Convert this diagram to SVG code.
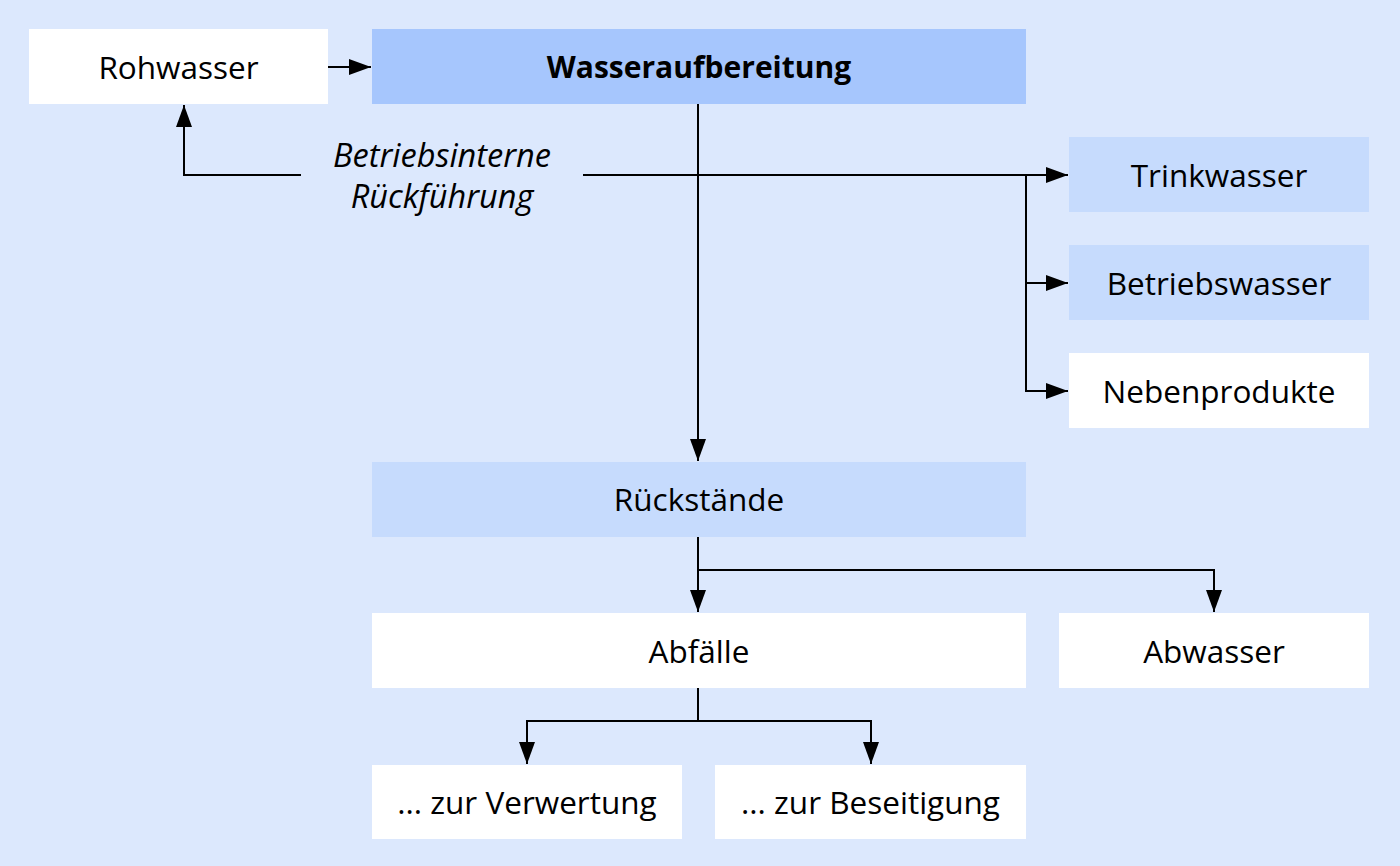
<svg xmlns="http://www.w3.org/2000/svg" width="1400" height="866" viewBox="0 0 1400 866">
<style>
text{font-family:"Open Sans","Noto Sans",sans-serif;font-size:31.5px;fill:#000;text-anchor:middle;dominant-baseline:central}
.i{font-style:italic;font-size:32.5px}
.bd{font-weight:bold;font-size:30px}
.w{fill:#fff}.d{fill:#a6c6fd}.l{fill:#c6dbfd}
.c{fill:none;stroke:#000;stroke-width:2}
</style>
<defs>
<marker id="b" viewBox="0 0 22 16" refX="22" refY="8" markerWidth="22" markerHeight="16" orient="auto" markerUnits="userSpaceOnUse">
<path d="M0,0L22,8L0,16z" fill="#000"/>
</marker>
</defs>
<rect width="1400" height="866" fill="#dce8fd"/>
<g id="connectors" class="c">
<path d="M328,67H371" marker-end="url(#b)"/>
<path d="M698,104V461" marker-end="url(#b)"/>
<path d="M583,175H1068" marker-end="url(#b)"/>
<path d="M1026,175V391H1068" marker-end="url(#b)"/>
<path d="M1026,283H1068" marker-end="url(#b)"/>
<path d="M301,175H184V105" marker-end="url(#b)"/>
<path d="M698,537V612" marker-end="url(#b)"/>
<path d="M698,570H1214V612" marker-end="url(#b)"/>
<path d="M698,688V721H527V764" marker-end="url(#b)"/>
<path d="M698,721H871V764" marker-end="url(#b)"/>
</g>
<g id="n-roh"><rect class="w" x="29" y="29" width="299" height="75"/><text x="178.5" y="66">Rohwasser</text></g>
<g id="n-wa"><rect class="d" x="372" y="29" width="654" height="75"/><text class="bd" x="699" y="66">Wasseraufbereitung</text></g>
<g id="n-label"><text class="i" x="442" y="154">Betriebsinterne</text><text class="i" x="442" y="195">Rückführung</text></g>
<g id="n-trink"><rect class="l" x="1069" y="137" width="300" height="75"/><text x="1219" y="174">Trinkwasser</text></g>
<g id="n-betr"><rect class="l" x="1069" y="245" width="300" height="75"/><text x="1219" y="282">Betriebswasser</text></g>
<g id="n-neben"><rect class="w" x="1069" y="353" width="300" height="75"/><text x="1219" y="390">Nebenprodukte</text></g>
<g id="n-rueck"><rect class="l" x="372" y="462" width="654" height="75"/><text x="699" y="498">Rückstände</text></g>
<g id="n-abf"><rect class="w" x="372" y="613" width="654" height="75"/><text x="699" y="650">Abfälle</text></g>
<g id="n-abw"><rect class="w" x="1059" y="613" width="310" height="75"/><text x="1214" y="650">Abwasser</text></g>
<g id="n-verw"><rect class="w" x="372" y="765" width="310" height="74"/><text x="527" y="801">... zur Verwertung</text></g>
<g id="n-bes"><rect class="w" x="715" y="765" width="311" height="74"/><text x="870.5" y="801">... zur Beseitigung</text></g>
</svg>
